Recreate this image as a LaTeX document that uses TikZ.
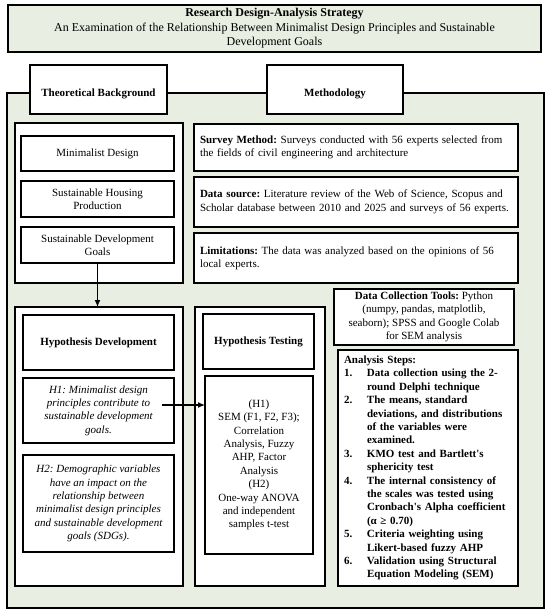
\documentclass[tikz,border=0pt]{standalone}
\usepackage{fontspec}
\setmainfont{Liberation Serif}
\usetikzlibrary{arrows.meta}
\definecolor{sage}{RGB}{233,238,226}
\frenchspacing
\begin{document}
\begin{tikzpicture}[x=1pt,y=-1pt,
  box/.style={draw, line width=1.3pt, fill=white, inner sep=0pt, outer sep=0pt,
    align=center, font=\fontsize{11}{13.4}\selectfont},
  leftbox/.style={box, align=left, text width=#1},
  link/.style={line width=1.3pt, -{Latex[length=7pt,width=6pt]}}]
\useasboundingbox (0,0) rectangle (550,614);
% background panel and heading
\node[box, fill=sage, minimum width=537, minimum height=515] (panel) at (275.5,350.5) {};
\node[box, fill=sage, minimum width=533, minimum height=47,
  font=\fontsize{12}{14.5}\selectfont] (title) at (274.5,28.5)
  {\textbf{Research Design-Analysis Strategy}\\An Examination of the Relationship Between Minimalist Design Principles and Sustainable\\Development Goals};
\node[box, minimum width=137, minimum height=49] (theory) at (98.5,89.5) {\raisebox{-7pt}[0pt][0pt]{\textbf{Theoretical Background}}};
\node[box, minimum width=136, minimum height=49] (method) at (335,89.5) {\raisebox{-7pt}[0pt][0pt]{\textbf{Methodology}}};
% theoretical background
\node[box, minimum width=168, minimum height=160] (tbpanel) at (99,203) {};
\node[box, minimum width=153, minimum height=35] (minimal) at (97.5,153.5) {Minimalist Design};
\node[box, minimum width=153, minimum height=36] (housing) at (97.5,199) {Sustainable Housing\\Production};
\node[box, minimum width=153, minimum height=36] (sdg) at (97.5,245) {Sustainable Development\\Goals};
% methodology
\node[leftbox=312, minimum width=324, minimum height=47] (survey) at (356,147.5)
  {\textbf{Survey Method:} Surveys conducted with 56 experts selected from\\the fields of civil engineering and architecture};
\node[leftbox=312, minimum width=324, minimum height=50] (source) at (356,202)
  {\textbf{Data source:} Literature review of the Web of Science, Scopus and\\Scholar database between 2010 and 2025 and surveys of 56 experts.};
\node[leftbox=312, minimum width=324, minimum height=50] (limits) at (356,258)
  {\textbf{Limitations:} The data was analyzed based on the opinions of 56\\local experts.};
\node[box, minimum width=180, minimum height=56] (tools) at (424,317)
  {\textbf{Data Collection Tools:} Python\\(numpy, pandas, matplotlib,\\seaborn); SPSS and Google Colab\\for SEM analysis};
\node[leftbox=168, minimum width=180, minimum height=236,
  font=\fontsize{11}{13.4}\selectfont\bfseries] (steps) at (428,468)
  {Analysis Steps:\\
  \makebox[23pt][l]{1.}Data collection using the 2-\\\hspace*{23pt}round Delphi technique\\
  \makebox[23pt][l]{2.}The means, standard\\\hspace*{23pt}deviations, and distributions\\\hspace*{23pt}of the variables were\\\hspace*{23pt}examined.\\
  \makebox[23pt][l]{3.}KMO test and Bartlett\textquotesingle s\\\hspace*{23pt}sphericity test\\
  \makebox[23pt][l]{4.}The internal consistency of\\\hspace*{23pt}the scales was tested using\\\hspace*{23pt}Cronbach\textquotesingle s Alpha coefficient\\\hspace*{23pt}(α ≥ 0.70)\\
  \makebox[23pt][l]{5.}Criteria weighting using\\\hspace*{23pt}Likert-based fuzzy AHP\\
  \makebox[23pt][l]{6.}Validation using Structural\\\hspace*{23pt}Equation Modeling (SEM)};
% hypotheses
\node[box, minimum width=168, minimum height=279] (hdpanel) at (99,446.5) {};
\node[box, minimum width=151, minimum height=55] (hdtitle) at (98.5,342.5) {\textbf{Hypothesis Development}};
\node[box, minimum width=151, minimum height=65, font=\fontsize{11}{13.4}\selectfont\itshape] (h1) at (98.5,410.5)
  {H1: Minimalist design\\principles contribute to\\sustainable development\\goals.};
\node[box, minimum width=151, minimum height=97, font=\fontsize{11}{13.4}\selectfont\itshape] (h2) at (98.5,503.5)
  {H2: Demographic variables\\have an impact on the\\relationship between\\minimalist design principles\\and sustainable development\\goals (SDGs).};
\node[box, minimum width=130, minimum height=279] (htpanel) at (260,446.5) {};
\node[box, minimum width=111, minimum height=55] (httitle) at (258.5,341.5) {\textbf{Hypothesis Testing}};
\node[box, minimum width=108, minimum height=178] (tests) at (259,465)
  {(H1)\\SEM (F1, F2, F3);\\Correlation\\Analysis, Fuzzy\\AHP, Factor\\Analysis\\(H2)\\One-way ANOVA\\and independent\\samples t-test};
% connectors
\draw[link] (sdg.south) -- (sdg.south |- hdpanel.north);
\coordinate (h1out) at ([xshift=-12pt,yshift=5.5pt]h1.east);
\draw[link] (h1out) -- (h1out -| tests.west);
\end{tikzpicture}
\end{document}
